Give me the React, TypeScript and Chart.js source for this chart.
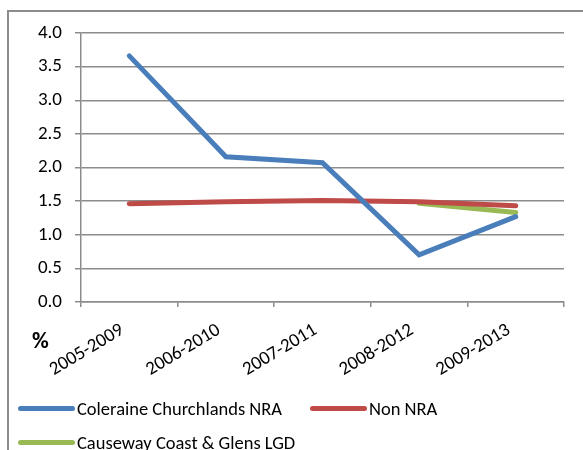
import React, { useEffect, useRef } from "react";
import { Chart, registerables } from "chart.js";

Chart.register(...registerables);

const categories = ["2005-2009", "2006-2010", "2007-2011", "2008-2012", "2009-2013"];
const coleraine = [3.66, 2.16, 2.07, 0.7, 1.27];
const nonNra = [1.46, 1.49, 1.51, 1.49, 1.43];
const causeway = [null, null, null, 1.47, 1.33];
const seriesLabels = ["Coleraine Churchlands NRA", "Non NRA", "Causeway Coast & Glens LGD"];
const seriesColors = ["#4a7ebb", "#be4b48", "#98b954"];
const yTicks = [0, 0.5, 1, 1.5, 2, 2.5, 3, 3.5, 4];

const FONT = "Carlito, Calibri, Lato, sans-serif";
const GRID = "#8c8c8c";

export default function App() {
  const ref = useRef<HTMLCanvasElement>(null);
  useEffect(() => {
    if (!ref.current) return;
    const chart = new Chart(ref.current, {
      type: "line",
      data: {
        labels: categories,
        datasets: [coleraine, nonNra, causeway].map((d, i) => ({
          label: seriesLabels[i],
          data: d,
          borderColor: seriesColors[i],
          backgroundColor: seriesColors[i],
          borderWidth: 5,
          borderCapStyle: "round" as const,
          pointRadius: 0,
          tension: 0,
        })),
      },
      options: {
        responsive: false,
        animation: false,
        devicePixelRatio: 1,
        layout: { padding: { left: 0, top: 33, right: 19, bottom: 0 } },
        plugins: { legend: { display: false }, tooltip: { enabled: false } },
        scales: {
          x: {
            type: "category",
            offset: true,
            grid: {
              offset: true,
              drawOnChartArea: false,
              drawTicks: true,
              tickLength: 5,
              color: GRID,
              lineWidth: 1.5,
            },
            border: { display: true, color: GRID, width: 1.5 },
            ticks: {
              minRotation: 31,
              maxRotation: 31,
              padding: 12,
              labelOffset: -7,
              color: "#000",
              font: { family: FONT, size: 19 },
            },
            afterFit: (s: any) => {
              s.height = 148;
            },
          },
          y: {
            min: 0,
            max: 4,
            afterBuildTicks: (s: any) => {
              s.ticks = yTicks.map((v) => ({ value: v }));
            },
            grid: { color: GRID, lineWidth: 1.5, tickLength: 6, drawTicks: true },
            border: { display: true, color: GRID, width: 1.5 },
            ticks: {
              padding: 13,
              color: "#000",
              font: { family: FONT, size: 19 },
              callback: (v: any) => Number(v).toFixed(1),
            },
            afterFit: (s: any) => {
              s.width = 81;
            },
          },
        },
      },
    });
    return () => chart.destroy();
  }, []);

  const legendPos = [
    { x: 18, y: 408 },
    { x: 310, y: 408 },
    { x: 18, y: 442 },
  ];

  return (
    <div
      style={{
        position: "fixed",
        left: 0,
        top: 0,
        width: 583,
        height: 450,
        overflow: "hidden",
        background: "#fff",
        fontFamily: FONT,
      }}
    >
      <div
        style={{
          position: "absolute",
          left: 7,
          top: 10,
          width: 800,
          height: 800,
          border: "2px solid #8c8c8c",
          boxSizing: "border-box",
        }}
      />
      <canvas ref={ref} width={583} height={450} style={{ position: "absolute", left: 0, top: 0 }} />
      <div
        style={{
          position: "absolute",
          left: 32,
          top: 325,
          fontSize: 23,
          fontWeight: "bold",
          color: "#000",
          lineHeight: "30px",
        }}
      >
        %
      </div>
      {seriesLabels.map((lab, i) => (
        <div
          key={lab}
          style={{
            position: "absolute",
            left: legendPos[i].x,
            top: legendPos[i].y - 15,
            height: 30,
            display: "flex",
            alignItems: "center",
            fontSize: 18.5,
            color: "#000",
            whiteSpace: "nowrap",
          }}
        >
          <span
            style={{
              display: "inline-block",
              width: 57,
              height: 5,
              borderRadius: 3,
              background: seriesColors[i],
              marginRight: 2,
            }}
          />
          <span>{lab}</span>
        </div>
      ))}
    </div>
  );
}
